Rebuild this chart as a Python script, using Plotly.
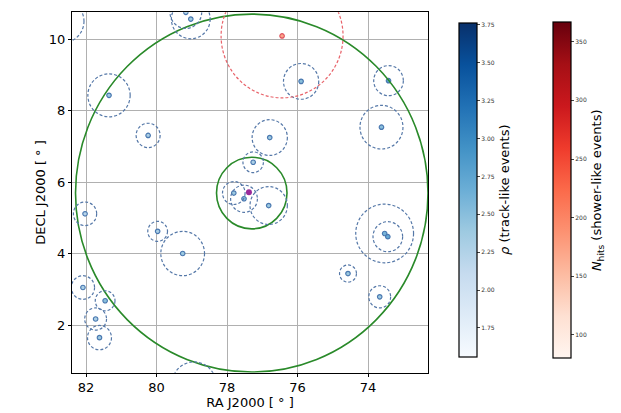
import numpy as np
import plotly.graph_objects as go

# ---- data ----
trk_ra = [81.35, 80.24, 79.03, 79.17, 82.66, 75.90, 73.42, 73.62, 76.79, 77.26,
          82.03, 79.97, 79.26, 76.82, 77.81, 77.52, 73.53, 73.44, 74.57, 73.67,
          82.09, 81.46, 81.73, 81.62, 78.94]
trk_dec = [8.43, 7.31, 10.56, 10.75, 10.50, 8.82, 8.84, 7.54, 7.25, 6.56,
           5.12, 4.63, 4.01, 5.35, 5.70, 5.54, 4.57, 4.48, 3.45, 2.80,
           3.06, 2.69, 2.18, 1.66, 0.35]
trk_err = [0.60, 0.34, 0.55, 0.45, 0.60, 0.50, 0.42, 0.61, 0.50, 0.29,
           0.33, 0.28, 0.62, 0.53, 0.32, 0.38, 0.82, 0.42, 0.24, 0.31,
           0.33, 0.28, 0.31, 0.34, 0.63]
trk_rho = [2.4, 2.3, 2.4, 2.3, 2.3, 2.5, 2.8, 2.5, 2.4, 2.3,
           2.2, 2.3, 2.4, 2.4, 2.4, 2.5, 2.6, 2.7, 2.4, 2.4,
           2.3, 2.5, 2.3, 2.4, 2.3]

shw_ra = [76.44]
shw_dec = [10.09]
shw_err = [1.73]
shw_nhits = [170]

src_ra = [77.38]
src_dec = [5.72]

roi_ra = [77.30, 77.30]
roi_dec = [5.70, 5.70]
roi_r = [5.0, 1.0]

x_ticks = [82, 80, 78, 76, 74]
y_ticks = [2, 4, 6, 8, 10]
rho_ticks = [1.75, 2.00, 2.25, 2.50, 2.75, 3.00, 3.25, 3.50, 3.75]
nh_ticks = [100, 150, 200, 250, 300, 350]

fig = go.Figure()

shapes = []
for ra, dec, r in zip(roi_ra, roi_dec, roi_r):
    shapes.append(dict(type="circle", xref="x", yref="y", x0=ra - r, x1=ra + r,
                       y0=dec - r, y1=dec + r, line=dict(color="#2a8a2a", width=1.6)))
for ra, dec, r in zip(trk_ra, trk_dec, trk_err):
    shapes.append(dict(type="circle", xref="x", yref="y", x0=ra - r, x1=ra + r,
                       y0=dec - r, y1=dec + r,
                       line=dict(color="#5578a8", width=1.2, dash="3px,2px")))
for ra, dec, r in zip(shw_ra, shw_dec, shw_err):
    shapes.append(dict(type="circle", xref="x", yref="y", x0=ra - r, x1=ra + r,
                       y0=dec - r, y1=dec + r,
                       line=dict(color="#e8636a", width=1.2, dash="3px,2px")))

fig.add_trace(go.Scatter(
    x=trk_ra, y=trk_dec, mode="markers", showlegend=False,
    marker=dict(size=4.5, color=trk_rho, colorscale="Blues", cmin=1.56, cmax=3.765,
                line=dict(color="#4a78b0", width=1.2),
                colorbar=dict(x=449.3 / 621, xanchor="left", y=1 - 366.7 / 413, yanchor="bottom",
                              len=(366.7 - 12.7) / 413, lenmode="fraction", thickness=18,
                              outlinewidth=1.2, outlinecolor="black",
                              tickvals=rho_ticks, ticktext=["%.2f" % v for v in rho_ticks],
                              ticks="outside", ticklen=3, tickfont=dict(size=6, color="#333"),
                              title=dict(text="<i>ρ</i> (track-like events)", side="right",
                                         font=dict(size=13, color="black"))))))
fig.add_trace(go.Scatter(
    x=shw_ra, y=shw_dec, mode="markers", showlegend=False,
    marker=dict(size=4.5, color=shw_nhits, colorscale="Reds", cmin=80, cmax=366.6,
                line=dict(color="#e05560", width=1.2),
                colorbar=dict(x=543.3 / 621, xanchor="left", y=1 - 368.3 / 413, yanchor="bottom",
                              len=(368.3 - 12.7) / 413, lenmode="fraction", thickness=18,
                              outlinewidth=1.2, outlinecolor="black",
                              tickvals=nh_ticks, ticks="outside", ticklen=3,
                              tickfont=dict(size=6, color="#333"),
                              title=dict(text="<i>N</i><sub>hits</sub> (shower-like events)", side="right",
                                         font=dict(size=13, color="black"))))))
fig.add_trace(go.Scatter(
    x=src_ra, y=src_dec, mode="markers", showlegend=False,
    marker=dict(size=6, color="#9a2a9a", symbol="circle")))

fig.update_layout(
    width=621, height=413, margin=dict(l=0, r=0, t=0, b=0),
    paper_bgcolor="white", plot_bgcolor="white",
    font=dict(family="DejaVu Sans", size=13, color="black"),
    shapes=shapes,
    xaxis=dict(domain=[72 / 621, 428 / 621], range=[82.4, 72.3], tickvals=x_ticks,
               showgrid=True, gridcolor="#b0b0b0", gridwidth=1.3, zeroline=False,
               showline=True, linecolor="black", linewidth=1.3, mirror=True,
               ticks="outside", ticklen=3, tickcolor="black", tickfont=dict(size=13),
               automargin=False,
               title=dict(text="RA J2000 [ ° ]", standoff=0, font=dict(size=13))),
    yaxis=dict(domain=[1 - 372.7 / 413, 1 - 12.3 / 413], range=[0.68, 10.75], tickvals=y_ticks,
               showgrid=True, gridcolor="#b0b0b0", gridwidth=1.3, zeroline=False,
               showline=True, linecolor="black", linewidth=1.3, mirror=True,
               ticks="outside", ticklen=3, tickcolor="black", tickfont=dict(size=13),
               automargin=False,
               title=dict(text="DECL J2000 [ ° ]", standoff=0, font=dict(size=13))),
)

fig.write_html("out.html")
